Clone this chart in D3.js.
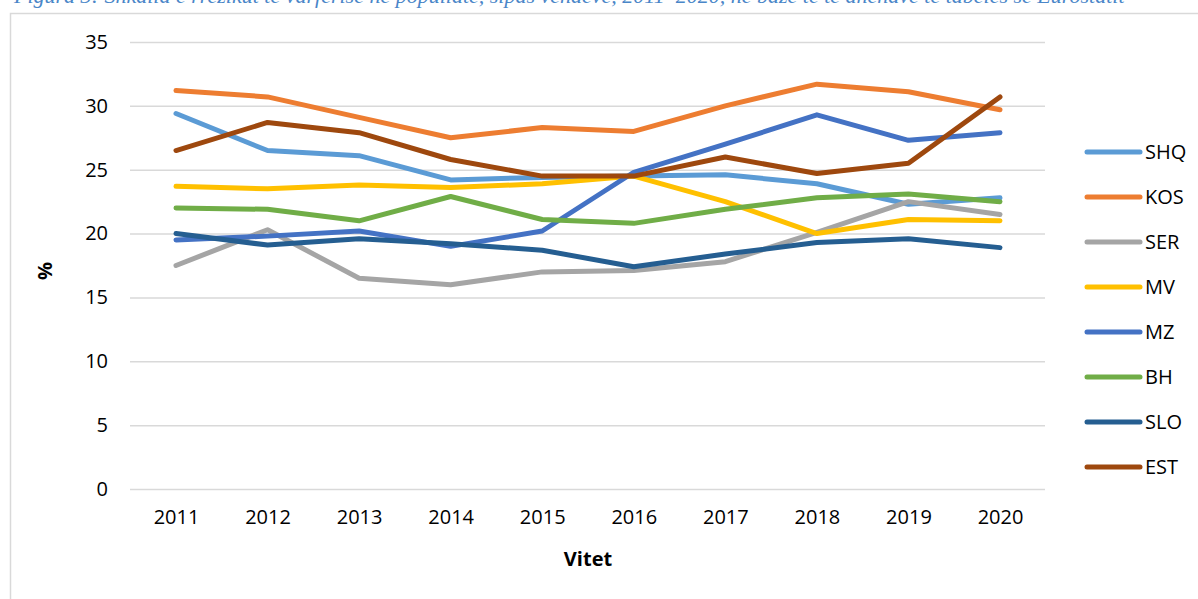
<!DOCTYPE html>
<html>
<head>
<meta charset="utf-8">
<script src="https://cdn.jsdelivr.net/npm/d3@7/dist/d3.min.js"></script>
<style>
html,body{margin:0;padding:0;background:#fff;}
svg{display:block;}
</style>
</head>
<body>
<svg id="chart" width="1198" height="599"></svg>
<script>
const years = ["2011","2012","2013","2014","2015","2016","2017","2018","2019","2020"];
const seriesNames = ["SHQ","KOS","SER","MV","MZ","BH","SLO","EST"];
const SHQ = [29.4,26.5,26.1,24.2,24.4,24.5,24.6,23.9,22.3,22.8];
const KOS = [31.2,30.7,29.1,27.5,28.3,28.0,30.0,31.7,31.1,29.7];
const SER = [17.5,20.3,16.5,16.0,17.0,17.1,17.8,20.1,22.5,21.5];
const MV  = [23.7,23.5,23.8,23.6,23.9,24.5,22.5,20.0,21.1,21.0];
const MZ  = [19.5,19.8,20.2,19.0,20.2,24.8,27.0,29.3,27.3,27.9];
const BH  = [22.0,21.9,21.0,22.9,21.1,20.8,21.9,22.8,23.1,22.5];
const SLO = [20.0,19.1,19.6,19.2,18.7,17.4,18.4,19.3,19.6,18.9];
const EST = [26.5,28.7,27.9,25.8,24.5,24.5,26.0,24.7,25.5,30.7];
const yTicks = [0,5,10,15,20,25,30,35];
const colors = ["#5B9BD5","#ED7D31","#A5A5A5","#FFC000","#4472C4","#70AD47","#255E91","#9E480E"];
const titleText = "Figura 3: Shkalla e rrezikut të varfërisë në popullatë, sipas vendeve, 2011–2020, në bazë të të dhënave të tabelës së Eurostatit";

const dataMap = {SHQ, KOS, SER, MV, MZ, BH, SLO, EST};
const svg = d3.select("#chart");
const font = "'Open Sans', sans-serif";

// title (cropped at top, as in the source)
svg.append("text")
  .attr("x", 14).attr("y", 3)
  .attr("font-family", "'Liberation Serif', serif")
  .attr("font-style", "italic")
  .attr("font-size", 22)
  .attr("fill", "#4A86C8")
  .text(titleText);

// frame
svg.append("rect")
  .attr("x", 10.5).attr("y", 13.5)
  .attr("width", 1400).attr("height", 800)
  .attr("fill", "none").attr("stroke", "#D9D9D9").attr("stroke-width", 1.5);

const x = d3.scalePoint().domain(years).range([176, 1000]);
const y = d3.scaleLinear().domain([0, 35]).range([489, 42]);

// gridlines
const grid = svg.append("g")
  .attr("transform", "translate(130,0)")
  .call(d3.axisLeft(y).tickValues(yTicks).tickSize(-(1045 - 130)).tickFormat(""));
grid.select(".domain").remove();
grid.selectAll(".tick line").attr("stroke", "#D9D9D9").attr("stroke-width", 1.5);

// y labels
const yAxis = svg.append("g").attr("transform", "translate(108,0)")
  .call(d3.axisLeft(y).tickValues(yTicks).tickSize(0).tickPadding(0));
yAxis.select(".domain").remove();
yAxis.selectAll("text").attr("font-family", font).attr("font-size", 20).attr("fill", "#000");

// x labels
const xAxis = svg.append("g").attr("transform", "translate(0,510)")
  .call(d3.axisBottom(x).tickSize(0).tickPadding(0));
xAxis.select(".domain").remove();
xAxis.selectAll("text").attr("font-family", font).attr("font-size", 20).attr("fill", "#000");

// axis titles
svg.append("text")
  .attr("x", 588).attr("y", 566)
  .attr("text-anchor", "middle")
  .attr("font-family", font).attr("font-size", 20).attr("font-weight", "bold")
  .text("Vitet");
svg.append("text")
  .attr("transform", "translate(52,271) rotate(-90)")
  .attr("text-anchor", "middle")
  .attr("font-family", font).attr("font-size", 20).attr("font-weight", "bold")
  .text("%");

// lines
const line = d3.line().x((d, i) => x(years[i])).y(d => y(d));
seriesNames.forEach((name, k) => {
  svg.append("path")
    .datum(dataMap[name])
    .attr("d", line)
    .attr("fill", "none")
    .attr("stroke", colors[k])
    .attr("stroke-width", 5)
    .attr("stroke-linecap", "round")
    .attr("stroke-linejoin", "round");
});

// legend
const leg = svg.append("g");
seriesNames.forEach((name, k) => {
  const ly = 152 + k * 45;
  leg.append("line")
    .attr("x1", 1087).attr("x2", 1140).attr("y1", ly).attr("y2", ly)
    .attr("stroke", colors[k]).attr("stroke-width", 5).attr("stroke-linecap", "round");
  leg.append("text")
    .attr("x", 1145).attr("y", ly).attr("dy", "0.36em")
    .attr("font-family", font).attr("font-size", 20).attr("fill", "#000")
    .text(name);
});
</script>
</body>
</html>
